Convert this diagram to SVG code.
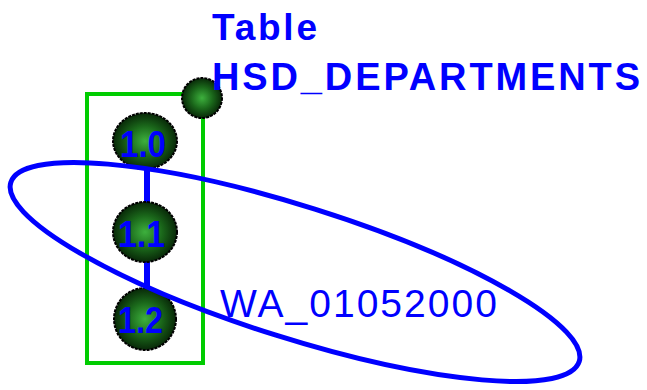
<svg xmlns="http://www.w3.org/2000/svg" width="647" height="390" viewBox="0 0 647 390">
<style>
.lbl{font-family:"Liberation Sans",Arial,sans-serif;fill:#0000ff}
.ball{fill:url(#g);stroke:#000;stroke-width:2;stroke-dasharray:3 1}
.num{font-family:"Liberation Sans",Arial,sans-serif;fill:#0000ff;font-size:36px;font-weight:bold}
</style>
<defs>
<radialGradient id="g" cx="0.5" cy="0.5" r="0.5">
<stop offset="0" stop-color="#3db03d"/>
<stop offset="0.55" stop-color="#1a661a"/>
<stop offset="1" stop-color="#082808"/>
</radialGradient>
</defs>
<g id="table">
<rect x="87" y="94" width="116" height="269" fill="none" stroke="#00cc00" stroke-width="4"/>
<circle class="ball" cx="202" cy="98" r="20"/>
<text class="lbl" x="212" y="40" font-size="37" font-weight="bold" textLength="105" lengthAdjust="spacing">Table</text>
<text class="lbl" x="212" y="90" font-size="38" font-weight="bold" textLength="428" lengthAdjust="spacing">HSD_DEPARTMENTS</text>
</g>
<g id="connectors">
<line x1="147" y1="165" x2="147" y2="295" stroke="#0000ff" stroke-width="6"/>
</g>
<g id="n10">
<ellipse class="ball" cx="145" cy="141" rx="32" ry="28"/>
<text class="num" x="120" y="157" textLength="46" lengthAdjust="spacingAndGlyphs">1.0</text>
</g>
<g id="n11">
<ellipse class="ball" cx="145" cy="232" rx="32" ry="30"/>
<text class="num" x="118" y="247" textLength="47" lengthAdjust="spacingAndGlyphs">1.1</text>
</g>
<g id="n12">
<ellipse class="ball" cx="145" cy="319" rx="31" ry="31"/>
<text class="num" x="118" y="333" textLength="45" lengthAdjust="spacingAndGlyphs">1.2</text>
</g>
<g id="wa">
<ellipse cx="295" cy="272" rx="298" ry="66" transform="rotate(17.5 295 272)" fill="none" stroke="#0000ff" stroke-width="5"/>
<text class="lbl" x="220" y="317" font-size="39" textLength="277" lengthAdjust="spacing">WA_01052000</text>
</g>
</svg>
